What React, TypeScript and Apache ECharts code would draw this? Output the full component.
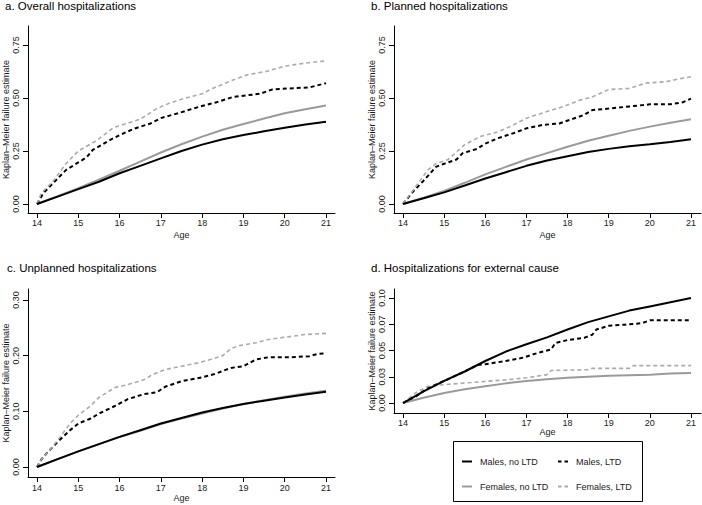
import React, { useEffect, useRef } from "react";
import * as echarts from "echarts";

// ---------- data ----------
const ageTicks = [14, 15, 16, 17, 18, 19, 20, 21];
const halfYearAges = [14, 14.5, 15, 15.5, 16, 16.5, 17, 17.5, 18, 18.5, 19, 19.5, 20, 20.5, 21];

const panelTitles = [
  "a. Overall hospitalizations",
  "b. Planned hospitalizations",
  "c. Unplanned hospitalizations",
  "d. Hospitalizations for external cause",
];
const seriesNames = ["Males, no LTD", "Males, LTD", "Females, no LTD", "Females, LTD"];

const abTickValues = [0, 0.25, 0.5, 0.75];
const abTickLabels = ["0.00", "0.25", "0.50", "0.75"];
const cTickValues = [0, 0.1, 0.2, 0.3];
const cTickLabels = ["0.00", "0.10", "0.20", "0.30"];
const dTickValues = [0, 0.025, 0.05, 0.075, 0.1];
const dTickLabels = ["0.00", "0.03", "0.05", "0.07", "0.10"];

// a. Overall
const aMalesNoLtd = [0, 0.035, 0.07, 0.105, 0.145, 0.18, 0.215, 0.25, 0.28, 0.305, 0.325, 0.343, 0.36, 0.375, 0.388];
const aFemalesNoLtd = [0, 0.037, 0.075, 0.115, 0.157, 0.2, 0.243, 0.282, 0.318, 0.35, 0.377, 0.403, 0.428, 0.447, 0.465];
const aMalesLtdAge = [14, 14.15, 14.5, 14.7, 14.95, 15.2, 15.35, 15.75, 16.0, 16.35, 16.75, 17.0, 17.45, 17.95, 18.35, 18.75, 19.4, 19.7, 20.1, 20.6, 21];
const aMalesLtd = [0, 0.05, 0.12, 0.16, 0.19, 0.22, 0.255, 0.3, 0.325, 0.355, 0.38, 0.405, 0.43, 0.46, 0.48, 0.505, 0.52, 0.54, 0.545, 0.55, 0.57];
const aFemalesLtdAge = [14, 14.1, 14.4, 14.7, 15.0, 15.45, 15.85, 16.5, 16.9, 17.2, 17.6, 18.0, 18.25, 18.75, 19.1, 19.55, 20.0, 20.5, 21];
const aFemalesLtd = [0, 0.05, 0.11, 0.19, 0.25, 0.3, 0.36, 0.4, 0.45, 0.475, 0.5, 0.52, 0.545, 0.585, 0.61, 0.625, 0.65, 0.665, 0.675];

// b. Planned
const bMalesNoLtd = [0, 0.027, 0.055, 0.087, 0.12, 0.15, 0.18, 0.205, 0.225, 0.245, 0.26, 0.272, 0.282, 0.293, 0.305];
const bFemalesNoLtd = [0, 0.03, 0.062, 0.1, 0.14, 0.175, 0.21, 0.24, 0.27, 0.298, 0.322, 0.345, 0.365, 0.383, 0.4];
const bMalesLtdAge = [14, 14.25, 14.5, 14.8, 15.0, 15.3, 15.45, 15.8, 16.0, 16.3, 16.7, 17.0, 17.4, 17.8, 18.1, 18.4, 18.6, 19.0, 19.5, 20.0, 20.5, 20.8, 21];
const bMalesLtd = [0, 0.06, 0.11, 0.175, 0.19, 0.21, 0.24, 0.26, 0.285, 0.31, 0.335, 0.357, 0.373, 0.38, 0.4, 0.42, 0.443, 0.45, 0.46, 0.47, 0.47, 0.48, 0.497];
const bFemalesLtdAge = [14, 14.3, 14.6, 14.8, 15.1, 15.3, 15.5, 15.9, 16.3, 16.6, 17.0, 17.4, 17.9, 18.3, 18.6, 19.0, 19.5, 19.9, 20.4, 20.7, 21];
const bFemalesLtd = [0, 0.08, 0.16, 0.19, 0.21, 0.245, 0.28, 0.32, 0.34, 0.365, 0.405, 0.43, 0.46, 0.49, 0.505, 0.54, 0.545, 0.57, 0.577, 0.59, 0.6];

// c. Unplanned
const cMalesNoLtd = [0, 0.014, 0.028, 0.041, 0.054, 0.066, 0.078, 0.088, 0.098, 0.106, 0.113, 0.119, 0.125, 0.13, 0.135];
const cFemalesNoLtd = [0, 0.014, 0.028, 0.041, 0.054, 0.065, 0.077, 0.087, 0.096, 0.105, 0.113, 0.12, 0.126, 0.132, 0.137];
const cMalesLtdAge = [14, 14.1, 14.3, 14.5, 14.8, 15.0, 15.3, 15.5, 15.9, 16.2, 16.6, 16.9, 17.1, 17.5, 18.0, 18.3, 18.7, 19.0, 19.3, 19.6, 20.1, 20.6, 20.8, 21];
const cMalesLtd = [0, 0.013, 0.03, 0.045, 0.066, 0.078, 0.087, 0.096, 0.11, 0.122, 0.131, 0.134, 0.144, 0.154, 0.161, 0.167, 0.178, 0.181, 0.193, 0.197, 0.197, 0.199, 0.203, 0.204];
const cFemalesLtdAge = [14, 14.1, 14.3, 14.5, 14.8, 15.0, 15.3, 15.5, 15.9, 16.2, 16.6, 16.8, 17.1, 17.5, 17.9, 18.2, 18.5, 18.7, 18.9, 19.3, 19.6, 20.0, 20.5, 21];
const cFemalesLtd = [0, 0.013, 0.03, 0.048, 0.078, 0.093, 0.11, 0.125, 0.143, 0.148, 0.157, 0.166, 0.175, 0.181, 0.187, 0.193, 0.2, 0.213, 0.218, 0.223, 0.229, 0.233, 0.238, 0.24];

// d. External cause
const dMalesNoLtd = [0, 0.011, 0.021, 0.03, 0.04, 0.049, 0.056, 0.0625, 0.07, 0.077, 0.0825, 0.088, 0.092, 0.096, 0.1];
const dFemalesNoLtd = [0, 0.005, 0.0095, 0.013, 0.016, 0.0187, 0.021, 0.0227, 0.024, 0.025, 0.026, 0.0265, 0.027, 0.028, 0.0286];
const dMalesLtdAge = [14, 14.3, 14.6, 15.0, 15.5, 15.8, 16.0, 16.5, 16.9, 17.3, 17.6, 17.7, 18.0, 18.4, 18.6, 18.7, 19.0, 19.4, 19.8, 20.0, 21];
const dMalesLtd = [0, 0.006, 0.014, 0.021, 0.03, 0.036, 0.037, 0.04, 0.043, 0.048, 0.051, 0.057, 0.06, 0.062, 0.065, 0.07, 0.0735, 0.0746, 0.076, 0.0787, 0.0787];
const dFemalesLtdAge = [14, 14.3, 14.6, 15.0, 15.5, 16.0, 16.5, 17.0, 17.5, 17.6, 18.5, 18.6, 19.5, 19.6, 21];
const dFemalesLtd = [0, 0.0095, 0.016, 0.0175, 0.019, 0.0206, 0.022, 0.024, 0.027, 0.031, 0.0317, 0.033, 0.033, 0.0356, 0.0356];

// ---------- layout / style ----------
const FONT = "'Liberation Sans', Arial, Helvetica, sans-serif";
const TEXT = "#1a1a1a";

type Panel = {
  grid: { left: number; top: number; width: number; height: number };
  xMin: number; xMax: number; yMin: number; yMax: number;
  yTicks: number[]; yLabels: string[];
  xLabelMargin: number; xNameGap: number;
  title: { left: number; top: number };
  curves: { ages: number[]; values: number[] }[]; // order = seriesNames
};

const pair = (ages: number[], values: number[]) => ages.map((a, i) => [a, values[i]]);

const panels: Panel[] = [
  {
    grid: { left: 28, top: 26, width: 307, height: 187 },
    xMin: 13.782, xMax: 21.218, yMin: -0.04245, yMax: 0.8396,
    yTicks: abTickValues, yLabels: abTickLabels, xLabelMargin: 5, xNameGap: 17,
    title: { left: 5, top: 0 },
    curves: [
      { ages: halfYearAges, values: aMalesNoLtd },
      { ages: aMalesLtdAge, values: aMalesLtd },
      { ages: halfYearAges, values: aFemalesNoLtd },
      { ages: aFemalesLtdAge, values: aFemalesLtd },
    ],
  },
  {
    grid: { left: 394, top: 26, width: 307, height: 187 },
    xMin: 13.781, xMax: 21.243, yMin: -0.04245, yMax: 0.8396,
    yTicks: abTickValues, yLabels: abTickLabels, xLabelMargin: 5, xNameGap: 17,
    title: { left: 371, top: 0 },
    curves: [
      { ages: halfYearAges, values: bMalesNoLtd },
      { ages: bMalesLtdAge, values: bMalesLtd },
      { ages: halfYearAges, values: bFemalesNoLtd },
      { ages: bFemalesLtdAge, values: bFemalesLtd },
    ],
  },
  {
    grid: { left: 28, top: 289, width: 307, height: 188 },
    xMin: 13.782, xMax: 21.218, yMin: -0.018, yMax: 0.3197,
    yTicks: cTickValues, yLabels: cTickLabels, xLabelMargin: 6, xNameGap: 16,
    title: { left: 7, top: 262 },
    curves: [
      { ages: halfYearAges, values: cMalesNoLtd },
      { ages: cMalesLtdAge, values: cMalesLtd },
      { ages: halfYearAges, values: cFemalesNoLtd },
      { ages: cFemalesLtdAge, values: cFemalesLtd },
    ],
  },
  {
    grid: { left: 394, top: 289, width: 307, height: 124 },
    xMin: 13.781, xMax: 21.243, yMin: -0.00952, yMax: 0.10857,
    yTicks: dTickValues, yLabels: dTickLabels, xLabelMargin: 5, xNameGap: 14,
    title: { left: 371, top: 262 },
    curves: [
      { ages: halfYearAges, values: dMalesNoLtd },
      { ages: dMalesLtdAge, values: dMalesLtd },
      { ages: halfYearAges, values: dFemalesNoLtd },
      { ages: dFemalesLtdAge, values: dFemalesLtd },
    ],
  },
];

const seriesStyles = [
  { color: "#000000", width: 2, type: "solid" as any },
  { color: "#000000", width: 2, type: [4, 3] as any },
  { color: "#9a9a9a", width: 2, type: "solid" as any },
  { color: "#aaaaaa", width: 1.6, type: [4, 3] as any },
];

const SOLID_ICON = "path://M0,0h10v2h-10z";
const DASH_ICON = "path://M0,0h3.5v2h-3.5z M6.5,0h3.5v2h-3.5z";

function buildOption(): any {
  const axisLineStyle = { color: "#000", width: 1 };
  const grid = panels.map((p) => ({ ...p.grid, containLabel: false }));
  const xAxis = panels.map((p, i) => ({
    type: "value",
    gridIndex: i,
    min: p.xMin,
    max: p.xMax,
    axisLine: { show: true, onZero: false, lineStyle: axisLineStyle },
    axisTick: { show: true, customValues: ageTicks, length: 5, lineStyle: axisLineStyle },
    axisLabel: {
      customValues: ageTicks,
      margin: p.xLabelMargin,
      fontSize: 9,
      color: TEXT,
      fontFamily: FONT,
      formatter: (v: number) => String(Math.round(v)),
    },
    splitLine: { show: false },
    name: "Age",
    nameLocation: "middle",
    nameGap: p.xNameGap,
    nameTextStyle: { fontSize: 9, color: TEXT, fontFamily: FONT },
  }));
  const yAxis = panels.map((p, i) => ({
    type: "value",
    gridIndex: i,
    min: p.yMin,
    max: p.yMax,
    axisLine: { show: true, onZero: false, lineStyle: axisLineStyle },
    axisTick: { show: true, customValues: p.yTicks, length: 5, lineStyle: axisLineStyle },
    axisLabel: {
      customValues: p.yTicks,
      rotate: 90,
      margin: 8,
      fontSize: 9,
      color: TEXT,
      fontFamily: FONT,
      formatter: (v: number) => {
        let best = 0;
        p.yTicks.forEach((t, k) => {
          if (Math.abs(t - v) < Math.abs(p.yTicks[best] - v)) best = k;
        });
        return p.yLabels[best];
      },
    },
    splitLine: { show: false },
    name: "Kaplan\u2013Meier failure estimate",
    nameLocation: "middle",
    nameGap: 18,
    nameTextStyle: { fontSize: 9, color: TEXT, fontFamily: FONT },
  }));
  const series: any[] = [];
  panels.forEach((p, i) => {
    p.curves.forEach((c, k) => {
      const st = seriesStyles[k];
      series.push({
        type: "line",
        name: seriesNames[k],
        xAxisIndex: i,
        yAxisIndex: i,
        data: pair(c.ages, c.values),
        showSymbol: false,
        symbol: "none",
        smooth: false,
        color: st.color,
        itemStyle: { color: st.color },
        lineStyle: { color: st.color, width: st.width, type: st.type },
        z: k === 0 ? 5 : 3,
        silent: true,
      });
    });
  });
  const title = panels.map((p, i) => ({
    text: panelTitles[i],
    left: p.title.left,
    top: p.title.top,
    padding: 0,
    textStyle: { fontSize: 11.5, fontWeight: "normal", color: "#000", fontFamily: FONT },
  }));
  const legendCommon = {
    orient: "vertical",
    top: 457,
    itemWidth: 10,
    itemHeight: 2,
    itemGap: 16,
    padding: 0,
    selectedMode: false,
    textStyle: { fontSize: 9, color: TEXT, fontFamily: FONT, padding: [0, 0, 0, 3] },
  };
  const legend = [
    {
      ...legendCommon,
      left: 462,
      data: [
        { name: "Males, no LTD", icon: SOLID_ICON },
        { name: "Females, no LTD", icon: SOLID_ICON },
      ],
    },
    {
      ...legendCommon,
      left: 558,
      data: [
        { name: "Males, LTD", icon: DASH_ICON },
        { name: "Females, LTD", icon: DASH_ICON },
      ],
    },
  ];
  const graphic = [
    {
      type: "rect",
      shape: { x: 453.5, y: 441.5, width: 189, height: 60 },
      style: { fill: "none", stroke: "#000", lineWidth: 1 },
      silent: true,
    },
  ];
  return {
    animation: false,
    backgroundColor: "#ffffff",
    textStyle: { fontFamily: FONT },
    title,
    legend,
    grid,
    xAxis,
    yAxis,
    series,
    graphic,
  };
}

export default function App() {
  const ref = useRef<HTMLDivElement>(null);
  useEffect(() => {
    if (!ref.current) return;
    const chart = echarts.init(ref.current, null, { renderer: "svg" });
    chart.setOption(buildOption());
    return () => chart.dispose();
  }, []);
  return (
    <div
      ref={ref}
      style={{ position: "fixed", left: 0, top: 0, width: 702, height: 505, background: "#fff" }}
    />
  );
}
